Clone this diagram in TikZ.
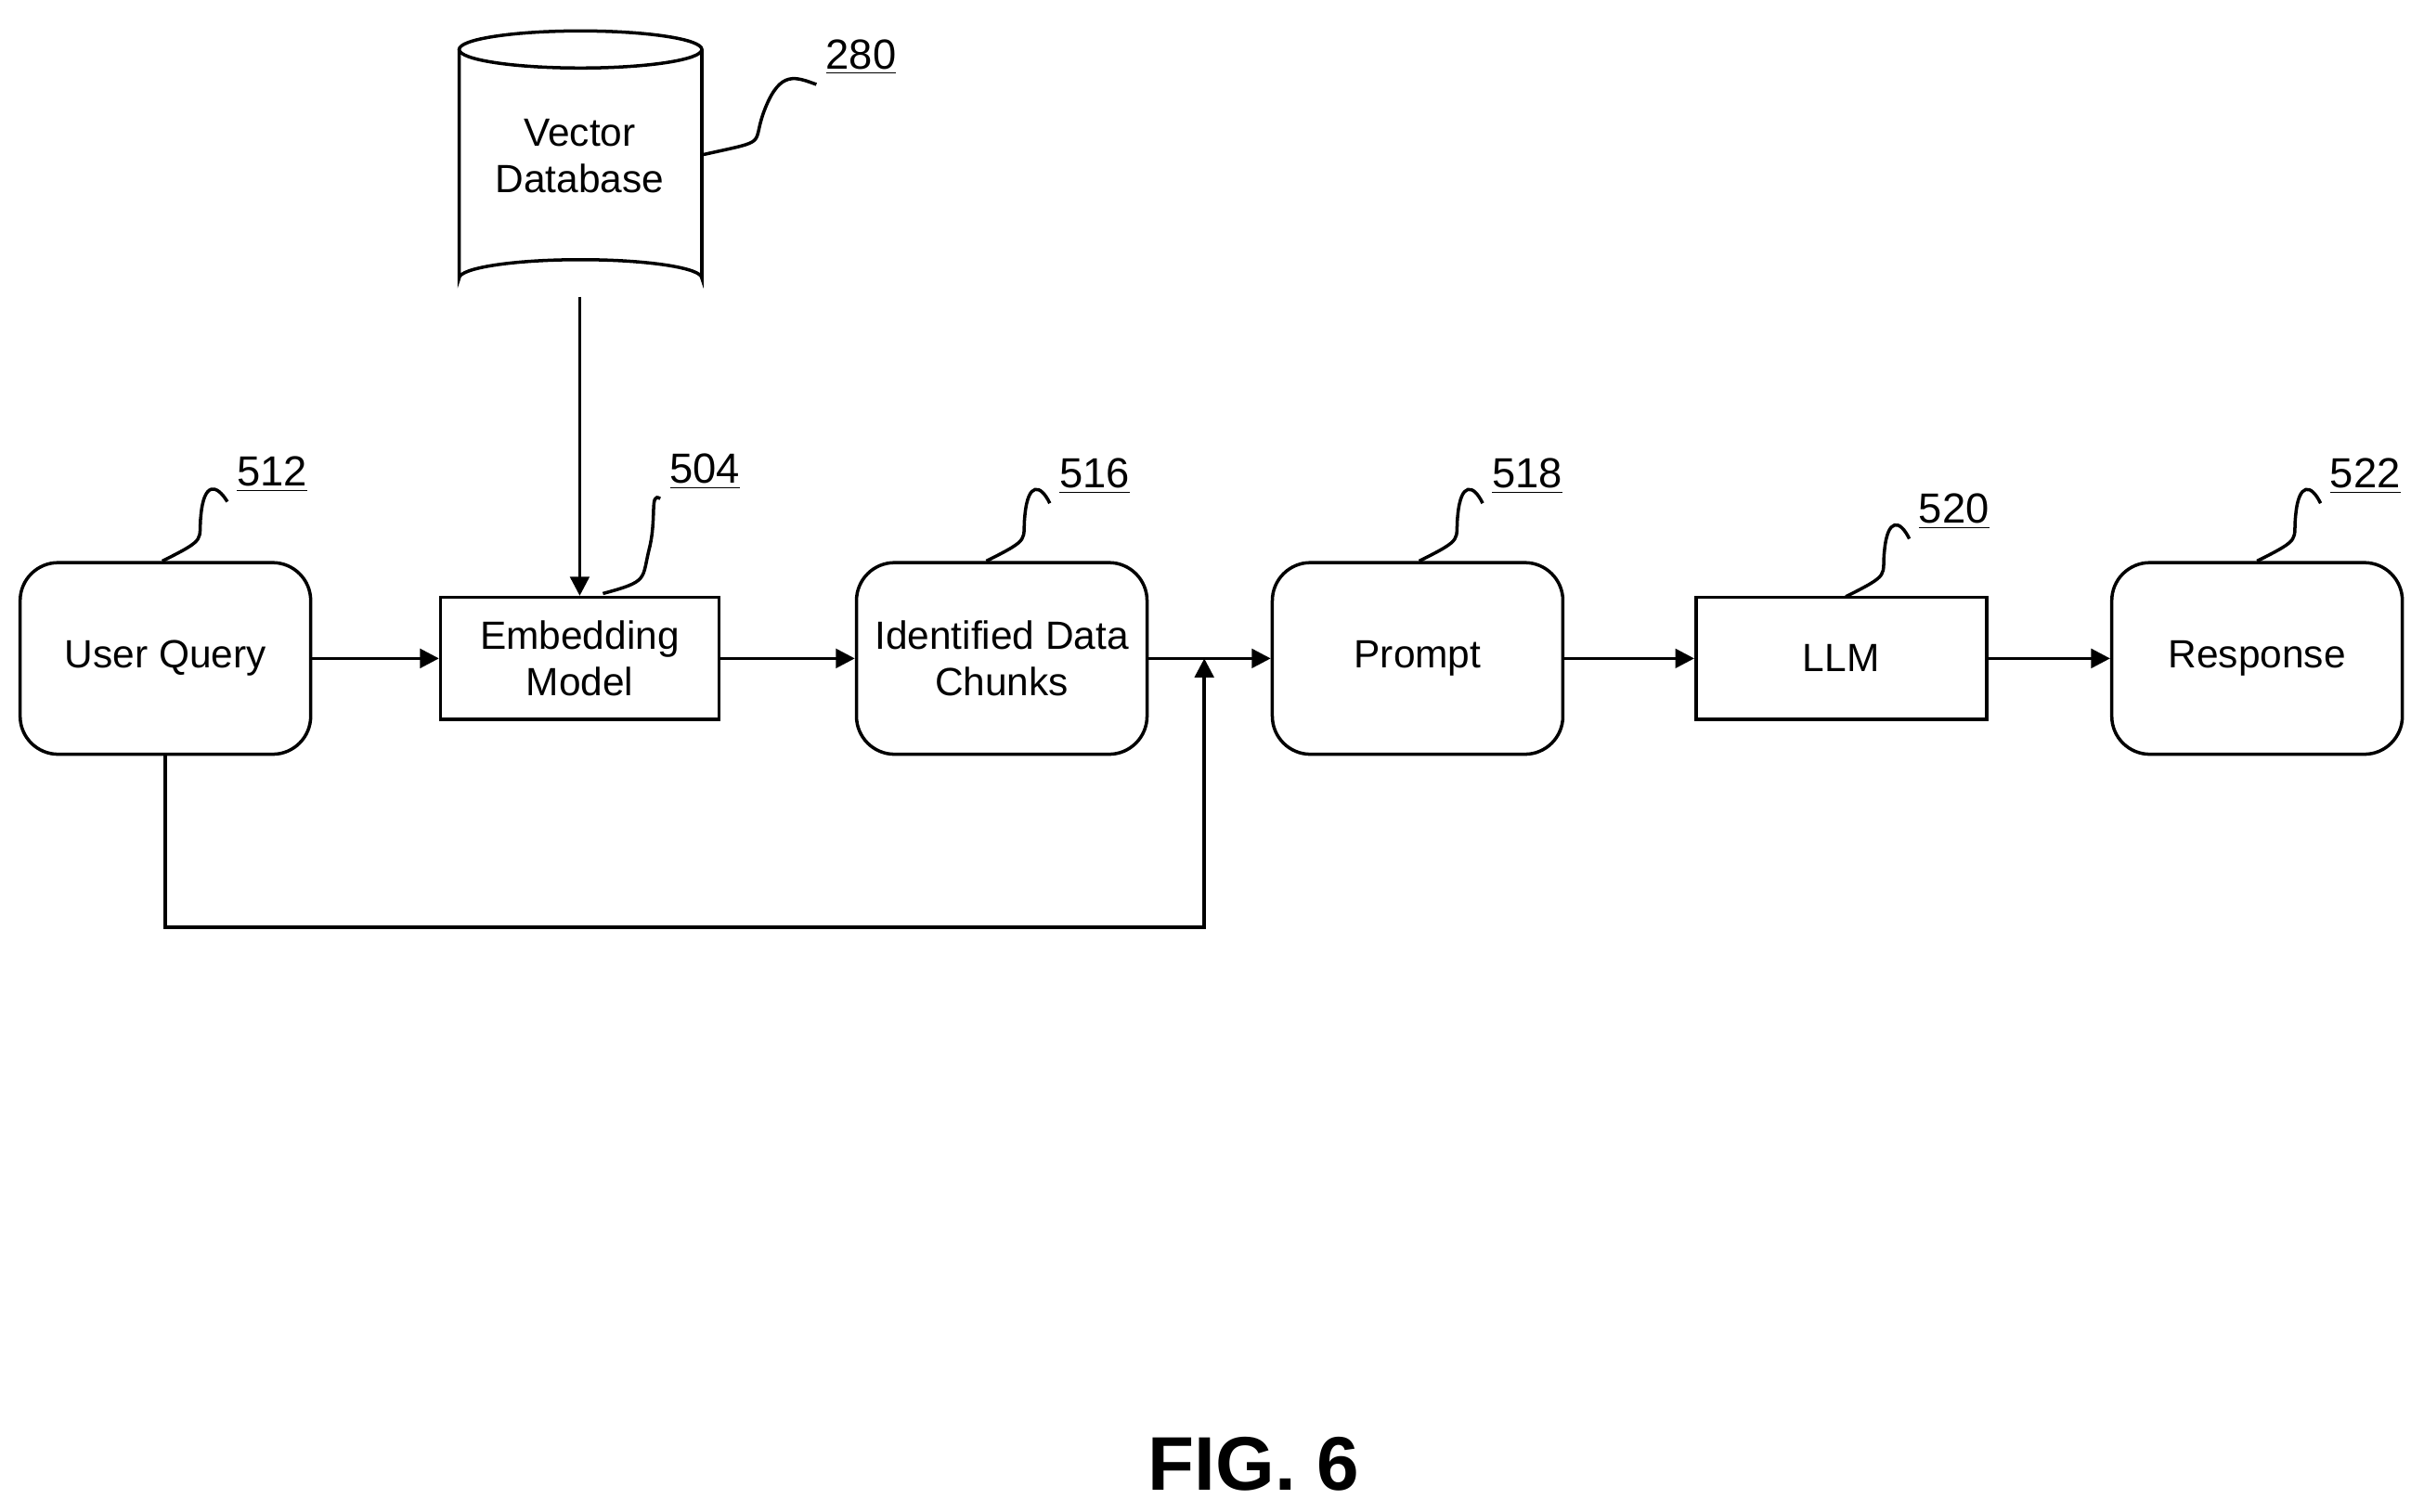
\documentclass[tikz,border=0pt]{standalone}
\usepackage{fontspec}
\setmainfont{Liberation Sans}
\usetikzlibrary{arrows.meta}
\begin{document}
\begin{tikzpicture}[x=0.02cm,y=-0.02cm,
  every node/.style={font=\fontsize{14.5}{17}\selectfont, align=center},
  rbox/.style={draw, line width=1.2pt, rounded corners=14pt, minimum width=3.76cm, minimum height=2.48cm, inner sep=0pt},
  sbox/.style={draw, line width=1.2pt, minimum width=3.6cm, minimum height=1.58cm, inner sep=0pt},
  arr/.style={line width=1.2pt, -{Triangle[length=7pt,width=7pt]}},
  lead/.style={line width=1.2pt},
  num/.style={font=\fontsize{15.5}{18}\selectfont}]
\useasboundingbox (0,0) rectangle (1568,978);
\node[rbox] (uq) at (107,426) {User Query};
\node[sbox] (em) at (375,426) {Embedding\\Model};
\node[rbox] (id) at (648,426) {Identified Data\\Chunks};
\node[rbox] (pr) at (917,426) {Prompt};
\node[sbox, minimum width=3.76cm] (llm) at (1191,426) {LLM};
\node[rbox] (re) at (1460,426) {Response};
% cylinder
\draw[line width=1.2pt] (297,32) -- (297,180) arc[start angle=180,end angle=360,x radius=78.5,y radius=12] -- (454,32);
\draw[line width=1.2pt] (375.5,32) ellipse[x radius=78.5,y radius=12];
\node (vd) at (375,101) {Vector\\Database};
\coordinate (cylb) at (375,192);
\draw[arr] (cylb) -- (em.north);
\draw[arr] (uq.east) -- (em.west);
\draw[arr] (em.east) -- (id.west);
\draw[arr] (id.east) -- (pr.west);
\draw[arr] (pr.east) -- (llm.west);
\draw[arr] (llm.east) -- (re.west);
\coordinate (j) at (779,426);
\draw[arr] (uq.south) -- (107,600) -- (779,600) -- (j);
% labels
\node[num] (n280) at (557,37) {\underline{280}};
\draw[lead] (455,100) .. controls (500,90) and (485,95) .. (495,70) .. controls (505,45) and (515,50) .. (n280.south west);
\node[num] (n512) at (176,307) {\underline{512}};
\draw[lead] (105,363) .. controls (135,348) and (128,350) .. (130,333) .. controls (132,312) and (140,313) .. (n512.south west);
\node[num] (n504) at (456,305) {\underline{504}};
\draw[lead] (390,384) .. controls (420,376) and (415,375) .. (420,355) .. controls (425,335) and (420,318) .. (n504.south west);
\node[num] (n516) at (708,308) {\underline{516}};
\draw[lead] (638,363) .. controls (668,348) and (661,350) .. (663,333) .. controls (665,312) and (673,313) .. (n516.south west);
\node[num] (n518) at (988,308) {\underline{518}};
\draw[lead] (918,363) .. controls (948,348) and (941,350) .. (943,333) .. controls (945,312) and (953,313) .. (n518.south west);
\node[num] (n520) at (1264,331) {\underline{520}};
\draw[lead] (1194,386) .. controls (1224,371) and (1217,373) .. (1219,356) .. controls (1221,335) and (1229,336) .. (n520.south west);
\node[num] (n522) at (1530,308) {\underline{522}};
\draw[lead] (1460,363) .. controls (1490,348) and (1483,350) .. (1485,333) .. controls (1487,312) and (1495,313) .. (n522.south west);
\node[font=\bfseries\fontsize{28}{32}\selectfont] (fig) at (811,947) {FIG. 6};
\end{tikzpicture}
\end{document}
